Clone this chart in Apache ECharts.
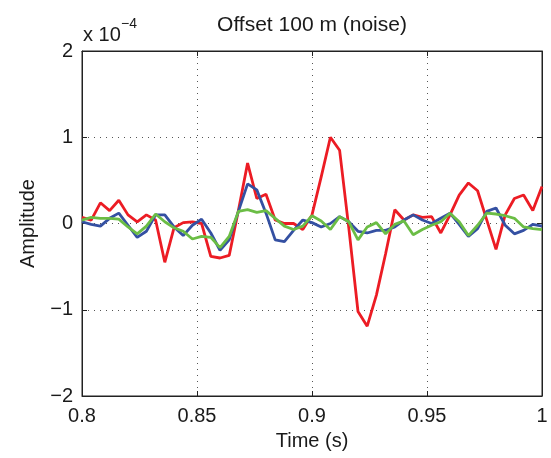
<!DOCTYPE html>
<html>
<head>
<meta charset="utf-8">
<script src="https://cdn.jsdelivr.net/npm/echarts@6/dist/echarts.min.js"></script>
<style>
html,body{margin:0;padding:0;background:#fff;}
#chart{width:551px;height:458px;}
</style>
</head>
<body>
<div id="chart"></div>
<script>
var times = [0.800,0.804,0.808,0.812,0.816,0.820,0.824,0.828,0.832,0.836,
             0.840,0.844,0.848,0.852,0.856,0.860,0.864,0.868,0.872,0.876,
             0.880,0.884,0.888,0.892,0.896,0.900,0.904,0.908,0.912,0.916,
             0.920,0.924,0.928,0.932,0.936,0.940,0.944,0.948,0.952,0.956,
             0.960,0.964,0.968,0.972,0.976,0.980,0.984,0.988,0.992,0.996,1.000];
// amplitudes in units of 1e-4
var red = [0.07,0.04,0.24,0.15,0.27,0.10,0.02,0.10,0.04,-0.45,
           -0.05,0.01,0.02,0.00,-0.38,-0.40,-0.37,0.15,0.70,0.29,
           0.34,0.04,0.00,0.00,-0.07,0.10,0.54,1.00,0.85,-0.05,
           -1.02,-1.19,-0.83,-0.35,0.16,0.04,0.10,0.07,0.08,-0.11,
           0.10,0.33,0.47,0.38,0.04,-0.30,0.10,0.29,0.33,0.15,0.43];
var blue = [0.02,-0.01,-0.03,0.06,0.12,-0.02,-0.16,-0.09,0.10,0.10,
            -0.04,-0.14,-0.02,0.05,-0.11,-0.31,-0.19,0.14,0.46,0.39,
            0.12,-0.19,-0.21,-0.08,0.04,0.01,-0.04,0.00,0.08,0.02,
            -0.09,-0.11,-0.08,-0.08,-0.04,0.04,0.10,0.04,0.00,0.06,
            0.12,-0.01,-0.15,-0.06,0.14,0.18,-0.02,-0.12,-0.08,-0.01,-0.03];
var green = [0.04,0.07,0.06,0.06,0.05,-0.04,-0.12,-0.03,0.11,0.02,
             -0.05,-0.09,-0.18,-0.15,-0.16,-0.28,-0.15,0.14,0.16,0.13,
             0.15,0.06,-0.03,-0.07,-0.03,0.09,0.03,-0.07,0.08,0.02,
             -0.19,-0.04,0.01,-0.12,-0.01,0.03,-0.13,-0.07,-0.02,0.02,
             0.12,0.02,-0.14,-0.02,0.12,0.11,0.09,0.06,-0.04,-0.06,-0.07];
var xTicks = ['0.8','0.85','0.9','0.95','1'];
var yTicks = ['\u22122','\u22121','0','1','2'];
var titleText = 'Offset 100 m (noise)';
var xName = 'Time (s)';
var yName = 'Amplitude';

function pairs(arr){ return times.map(function(t,i){ return [t, arr[i]]; }); }

var FONT = '"Liberation Sans", Arial, Helvetica, sans-serif';
var TXT = '#1a1a1a';
var chart = echarts.init(document.getElementById('chart'), null, {renderer:'canvas'});

function xfmt(v){ var i = Math.round((v-0.8)/0.05); return xTicks[i] !== undefined ? xTicks[i] : ''; }
function yfmt(v){ var i = Math.round(v+2); return yTicks[i] !== undefined ? yTicks[i] : ''; }

var grid = {left:82, right:9, top:51, bottom:62, show:true, borderColor:'#222', borderWidth:1, backgroundColor:'#fff'};
var dotted = {show:true, lineStyle:{color:'#555', width:1, type:[1,5]}};
var axLine = {show:true, onZero:false, lineStyle:{color:'#222', width:1}};
var axTick = {show:true, inside:true, length:5, lineStyle:{color:'#222'}};

var option = {
  animation:false,
  backgroundColor:'#fff',
  grid: grid,
  xAxis: [{
    type:'value', min:0.8, max:1, interval:0.05,
    axisLine:axLine, axisTick:axTick,
    axisLabel:{fontSize:20, fontFamily:FONT, color:TXT, margin:10, formatter:xfmt},
    splitLine:dotted,
    name:xName, nameLocation:'middle', nameGap:35,
    nameTextStyle:{fontSize:20, fontFamily:FONT, color:TXT}
  },{
    type:'value', min:0.8, max:1, interval:0.05, position:'top',
    axisLine:axLine, axisTick:axTick,
    axisLabel:{show:false}, splitLine:{show:false}
  }],
  yAxis: [{
    type:'value', min:-2, max:2, interval:1,
    axisLine:axLine, axisTick:axTick,
    axisLabel:{fontSize:20, fontFamily:FONT, color:TXT, margin:9, formatter:yfmt},
    splitLine:dotted,
    name:yName, nameLocation:'middle', nameGap:44,
    nameTextStyle:{fontSize:20, fontFamily:FONT, color:TXT}
  },{
    type:'value', min:-2, max:2, interval:1, position:'right',
    axisLine:axLine, axisTick:axTick,
    axisLabel:{show:false}, splitLine:{show:false}
  }],
  graphic: [
    {type:'text', x:312, y:25, style:{text:titleText, font:'21px '+FONT, fill:TXT, textAlign:'center', textVerticalAlign:'middle'}},
    {type:'text', x:83, y:35, style:{text:'x 10', font:'20px '+FONT, fill:TXT, textAlign:'left', textVerticalAlign:'middle'}},
    {type:'text', x:121, y:24, style:{text:'\u22124', font:'14px '+FONT, fill:TXT, textAlign:'left', textVerticalAlign:'middle'}}
  ],
  series: [
    {type:'line', data:pairs(red), showSymbol:false, lineStyle:{color:'#ec1c24', width:2.8}, itemStyle:{color:'#ec1c24'}, z:2},
    {type:'line', data:pairs(blue), showSymbol:false, lineStyle:{color:'#3450a2', width:2.8}, itemStyle:{color:'#3450a2'}, z:3},
    {type:'line', data:pairs(green), showSymbol:false, lineStyle:{color:'#6bbd45', width:2.8}, itemStyle:{color:'#6bbd45'}, z:4}
  ]
};
chart.setOption(option);
</script>
</body>
</html>
